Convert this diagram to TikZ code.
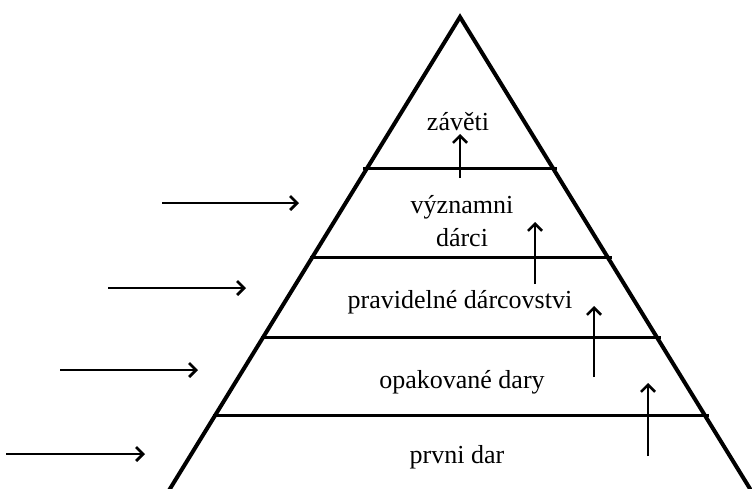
\documentclass[tikz,border=0pt]{standalone}
\usepackage{fontspec}
\setmainfont{Liberation Serif}
\usetikzlibrary{arrows.meta}
\begin{document}
\begin{tikzpicture}[x=1pt,y=-1pt,
  pyr/.style={line width=4pt,line join=miter},
  tier/.style={line width=3pt},
  push/.style={line width=2.8pt,-{Straight Barb[length=7pt,width=14pt,line width=2.8pt]}},
  lift/.style={line width=2.6pt,-{Straight Barb[length=7pt,width=14pt,line width=2.6pt]}},
  lbl/.style={anchor=base,font=\fontsize{26}{30}\selectfont,inner sep=0pt}]
\useasboundingbox (0,0) rectangle (752,488);
% pyramid
\coordinate (apex) at (460,17);
\coordinate (bl) at (168,492);
\coordinate (br) at (752,492);
\draw[pyr] (bl) -- (apex) -- (br);
% tier lines
\coordinate (l1a) at (363,168); \coordinate (l1b) at (557,168);
\coordinate (l2a) at (310,257); \coordinate (l2b) at (612,257);
\coordinate (l3a) at (261,337); \coordinate (l3b) at (661,337);
\coordinate (l4a) at (213,415); \coordinate (l4b) at (709,415);
\draw[tier] (l1a) -- (l1b);
\draw[tier] (l2a) -- (l2b);
\draw[tier] (l3a) -- (l3b);
\draw[tier] (l4a) -- (l4b);
% labels
\node[lbl] (t1) at (458,130) {závěti};
\node[lbl] (t2) at (462,213) {významni};
\node[lbl] (t2b) at (462,246) {dárci};
\node[lbl] (t3) at (460,308) {pravidelné dárcovstvi};
\node[lbl] (t4) at (462,388) {opakované dary};
\node[lbl] (t5) at (457,463) {prvni dar};
% left arrows
\coordinate (a1s) at (162,203); \coordinate (a1e) at (299,203);
\coordinate (a2s) at (108,288); \coordinate (a2e) at (246,288);
\coordinate (a3s) at (60,370);  \coordinate (a3e) at (198,370);
\coordinate (a4s) at (6,454);   \coordinate (a4e) at (145,454);
\draw[push] (a1s) -- (a1e);
\draw[push] (a2s) -- (a2e);
\draw[push] (a3s) -- (a3e);
\draw[push] (a4s) -- (a4e);
% upward arrows
\coordinate (u1s) at (460,178); \coordinate (u1e) at (460,134);
\coordinate (u2s) at (535,284); \coordinate (u2e) at (535,222);
\coordinate (u3s) at (594,377); \coordinate (u3e) at (594,306);
\coordinate (u4s) at (648,456); \coordinate (u4e) at (648,383);
\draw[lift] (u1s) -- (u1e);
\draw[lift] (u2s) -- (u2e);
\draw[lift] (u3s) -- (u3e);
\draw[lift] (u4s) -- (u4e);
\end{tikzpicture}
\end{document}
